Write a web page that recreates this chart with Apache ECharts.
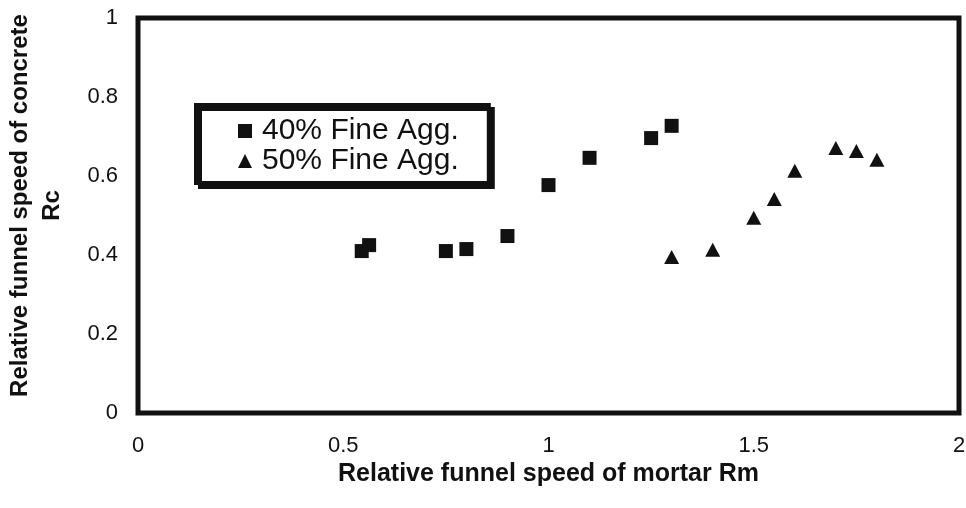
<!DOCTYPE html>
<html>
<head>
<meta charset="utf-8">
<script src="https://cdn.jsdelivr.net/npm/echarts@6/dist/echarts.min.js"></script>
<style>html,body{margin:0;padding:0;background:#fff}#c{width:966px;height:508px}</style>
</head>
<body>
<div id="c"></div>
<script>
var fine40X = [0.545, 0.563, 0.75, 0.80, 0.90, 1.0, 1.1, 1.25, 1.3];
var fine40Y = [0.410, 0.425, 0.410, 0.415, 0.448, 0.577, 0.646, 0.696, 0.727];
var fine50X = [1.3, 1.4, 1.5, 1.55, 1.6, 1.7, 1.75, 1.8];
var fine50Y = [0.395, 0.413, 0.494, 0.542, 0.613, 0.671, 0.663, 0.641];
var seriesNames = ['40% Fine Agg.', '50% Fine Agg.'];
var xTitle = 'Relative funnel speed of mortar Rm';
var yTitle = 'Relative funnel speed of concrete\nRc';

function pairs(xs, ys){ return xs.map(function(x,i){ return [x, ys[i]]; }); }

var chart = echarts.init(document.getElementById('c'), null, {renderer:'canvas'});
var ink = '#111';
chart.setOption({
  animation: false,
  backgroundColor: '#fff',
  textStyle: {fontFamily: 'Liberation Sans, Arial, sans-serif', color: ink},
  grid: {left: 138, right: 7, top: 18, bottom: 95, show: true, borderColor: ink, borderWidth: 5,
         backgroundColor: 'transparent', containLabel: false, outerBoundsMode: 'none'},
  xAxis: {
    type: 'value', min: 0, max: 2, interval: 0.5,
    axisLine: {show: false}, axisTick: {show: false}, splitLine: {show: false},
    axisLabel: {color: ink, fontSize: 22, margin: 22, formatter: function(v){ return String(v); }},
    name: xTitle, nameLocation: 'middle', nameGap: 31,
    nameTextStyle: {color: ink, fontSize: 25, fontWeight: 'bold'}
  },
  yAxis: {
    type: 'value', min: 0, max: 1, interval: 0.2,
    axisLine: {show: false}, axisTick: {show: false}, splitLine: {show: false},
    axisLabel: {color: ink, fontSize: 22, margin: 20, formatter: function(v){ return String(v); }},
    name: yTitle, nameLocation: 'middle', nameGap: 70, nameRotate: 90,
    nameTextStyle: {color: ink, fontSize: 24, fontWeight: 'bold', lineHeight: 32, align: 'center', padding: [0, 0, 0, 20]}
  },
  legend: {
    orient: 'vertical', left: 196, top: 105,
    padding: [11, 30, 7, 42],
    itemGap: 0, itemWidth: 14, itemHeight: 14,
    backgroundColor: '#fff', borderColor: ink, borderWidth: 4,
    shadowColor: ink, shadowBlur: 0, shadowOffsetX: 4, shadowOffsetY: 4,
    textStyle: {color: ink, fontSize: 30, padding: [0,0,0,5]},
    data: [{name: seriesNames[0], icon: 'rect'}, {name: seriesNames[1], icon: 'triangle'}]
  },
  series: [
    {name: seriesNames[0], type: 'scatter', symbol: 'rect', symbolSize: 14,
     itemStyle: {color: ink, opacity: 1}, data: pairs(fine40X, fine40Y)},
    {name: seriesNames[1], type: 'scatter', symbol: 'triangle', symbolSize: [15, 14],
     itemStyle: {color: ink, opacity: 1}, data: pairs(fine50X, fine50Y)}
  ]
});
</script>
</body>
</html>
